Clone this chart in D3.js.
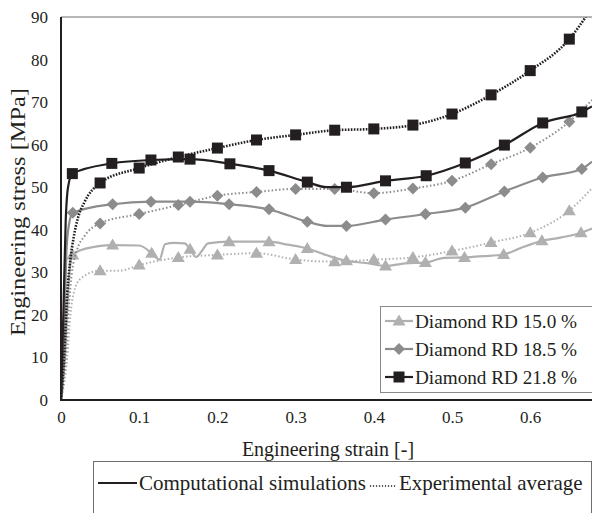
<!DOCTYPE html>
<html>
<head>
<meta charset="utf-8">
<script src="https://cdn.jsdelivr.net/npm/d3@7"></script>
<style>
  html, body { margin: 0; padding: 0; background: #fff; }
</style>
</head>
<body>
<svg id="chart" width="592" height="513" font-family="Liberation Serif"></svg>
<script>
// Engineering stress–strain curves for three diamond lattice relative densities.
// Each point: [strain, stress (MPa), marker flag]
const sim150 = [
  [0,0,0],[0.005,10,0],[0.009,25,0],[0.012,32,0],[0.015,34.1,1],[0.03,35.5,0],[0.066,36.4,1],
  [0.1,36.3,0],[0.116,34.5,1],[0.126,33.0,0],[0.133,36.6,0],[0.145,36.9,0],[0.158,36.8,0],
  [0.165,35.4,1],[0.173,33.6,0],[0.18,35.0,0],[0.188,36.8,0],[0.215,37.2,1],[0.266,37.2,1],
  [0.29,36.5,0],[0.315,35.6,1],[0.34,34.0,0],[0.365,32.7,1],[0.39,32.2,0],[0.415,31.5,1],
  [0.44,32.1,0],[0.466,32.3,1],[0.49,33.4,0],[0.516,33.5,1],[0.54,33.8,0],[0.566,34.2,1],
  [0.59,35.9,0],[0.615,37.4,1],[0.64,38.2,0],[0.665,39.3,1],[0.679,40.3,0]
];
const exp150 = [
  [0,0,0],[0.008,10,0],[0.012,20,0],[0.016,25,0],[0.025,28.5,0],[0.05,30.4,1],[0.075,30.4,0],
  [0.1,31.7,1],[0.15,33.5,1],[0.2,34.1,1],[0.25,34.5,1],[0.3,33.0,1],[0.35,32.5,1],[0.4,33.0,1],
  [0.45,33.5,1],[0.5,35.0,1],[0.55,37.0,1],[0.6,39.3,1],[0.65,44.5,1],[0.679,49.8,0]
];
const sim185 = [
  [0,0,0],[0.004,15,0],[0.007,35,0],[0.01,41,0],[0.015,44.0,1],[0.066,46.0,1],[0.115,46.6,1],
  [0.165,46.6,1],[0.215,46.0,1],[0.266,44.8,1],[0.315,41.9,1],[0.34,40.9,0],[0.365,40.9,1],
  [0.415,42.4,1],[0.466,43.7,1],[0.517,45.2,1],[0.567,49.0,1],[0.616,52.3,1],[0.666,54.3,1],
  [0.679,56.0,0]
];
const exp185 = [
  [0,0,0],[0.006,10,0],[0.01,22,0],[0.014,30,0],[0.02,35,0],[0.03,38.5,0],[0.05,41.5,1],
  [0.1,43.7,1],[0.15,45.8,1],[0.2,48.0,1],[0.25,48.9,1],[0.3,49.6,1],[0.35,49.6,1],[0.4,48.6,1],
  [0.45,49.7,1],[0.5,51.5,1],[0.55,55.4,1],[0.6,59.3,1],[0.65,65.4,1],[0.679,70.5,0]
];
const sim218 = [
  [0,0,0],[0.003,20,0],[0.006,42,0],[0.009,50,0],[0.0145,53.2,1],[0.065,55.6,1],[0.115,56.4,1],
  [0.165,56.6,1],[0.216,55.5,1],[0.266,53.9,1],[0.315,51.2,1],[0.34,50.0,0],[0.365,50.0,1],
  [0.415,51.5,1],[0.467,52.7,1],[0.517,55.7,1],[0.567,59.9,1],[0.616,65.1,1],[0.666,67.7,1],
  [0.679,69.0,0]
];
const exp218 = [
  [0,0,0],[0.004,10,0],[0.008,25,0],[0.012,33,0],[0.016,38,0],[0.022,43,0],[0.03,46.5,0],
  [0.05,51.0,1],[0.1,54.5,1],[0.15,57.1,1],[0.2,59.2,1],[0.25,61.1,1],[0.3,62.3,1],[0.35,63.4,1],
  [0.4,63.7,1],[0.45,64.6,1],[0.5,67.2,1],[0.55,71.7,1],[0.6,77.4,1],[0.65,84.8,1],[0.671,90,0]
];

const seriesNames = ["Diamond RD 15.0 %", "Diamond RD 18.5 %", "Diamond RD 21.8 %"];
const seriesColors = ["#b0b0b0", "#8c8c8c", "#231f20"];
const seriesShapes = ["triangle", "diamond", "square"];
const simData = [sim150, sim185, sim218];
const expData = [exp150, exp185, exp218];

const xTicks = [0, 0.1, 0.2, 0.3, 0.4, 0.5, 0.6];
const yTicks = [0, 10, 20, 30, 40, 50, 60, 70, 80, 90];
const styleNames = ["Computational simulations", "Experimental average"];

const FONT = "Liberation Serif";
const svg = d3.select("#chart");
const margin = { left: 61, top: 17, bottom: 400 };

const x = d3.scaleLinear().domain([0, 0.68]).range([margin.left, margin.left + 0.68 * 782]);
const y = d3.scaleLinear().domain([0, 90]).range([margin.bottom, margin.top]);

svg.append("defs").append("clipPath").attr("id", "plotClip")
  .append("rect")
  .attr("x", margin.left).attr("y", margin.top)
  .attr("width", 592 - margin.left).attr("height", margin.bottom - margin.top);

// top frame line
svg.append("line")
  .attr("x1", margin.left).attr("x2", 592)
  .attr("y1", margin.top).attr("y2", margin.top)
  .attr("stroke", "#6d6d6d").attr("stroke-width", 1);

// axes (labels only, no tick marks)
const xAxis = svg.append("g").attr("transform", `translate(0,${margin.bottom})`)
  .call(d3.axisBottom(x).tickValues(xTicks).tickSize(0).tickPadding(11)
    .tickFormat(d => d === 0 ? "0" : d3.format(".1f")(d)));
const yAxis = svg.append("g").attr("transform", `translate(${margin.left},0)`)
  .call(d3.axisLeft(y).tickValues(yTicks).tickSize(0).tickPadding(13));
[xAxis, yAxis].forEach(g => {
  g.attr("font-family", FONT).attr("font-size", 17);
  g.select(".domain").remove();
  g.selectAll("text").attr("font-family", FONT).attr("fill", "#231f20");
});

const line = d3.line().x(d => x(d[0])).y(d => y(d[1])).curve(d3.curveMonotoneX);

function marker(g, shape, color, cx, cy) {
  if (shape === "square") {
    g.append("rect").attr("x", cx - 5.5).attr("y", cy - 5.5).attr("width", 11).attr("height", 11).attr("fill", color);
  } else if (shape === "diamond") {
    g.append("path").attr("d", `M${cx},${cy - 6}L${cx + 6},${cy}L${cx},${cy + 6}L${cx - 6},${cy}Z`).attr("fill", color);
  } else {
    g.append("path").attr("d", `M${cx},${cy - 6.5}L${cx + 6.5},${cy + 4.5}L${cx - 6.5},${cy + 4.5}Z`).attr("fill", color);
  }
}

const plot = svg.append("g").attr("clip-path", "url(#plotClip)");

for (let i = 0; i < 3; i++) {
  const g = plot.append("g");
  const black = i === 2;
  g.append("path").datum(expData[i])
    .attr("d", line).attr("fill", "none")
    .attr("stroke", seriesColors[i]).attr("stroke-width", black ? 2.6 : 2)
    .attr("stroke-dasharray", black ? "1.6,1.4" : "1.5,2.2");
  g.append("path").datum(simData[i])
    .attr("d", line).attr("fill", "none")
    .attr("stroke", seriesColors[i]).attr("stroke-width", 2.2);
  expData[i].filter(d => d[2]).forEach(d => marker(g, seriesShapes[i], seriesColors[i], x(d[0]), y(d[1])));
  simData[i].filter(d => d[2]).forEach(d => marker(g, seriesShapes[i], seriesColors[i], x(d[0]), y(d[1])));
}

// axis lines drawn over the curves
svg.append("line").attr("x1", margin.left).attr("x2", margin.left)
  .attr("y1", margin.top).attr("y2", margin.bottom + 1)
  .attr("stroke", "#231f20").attr("stroke-width", 2);
svg.append("line").attr("x1", margin.left).attr("x2", 592)
  .attr("y1", margin.bottom).attr("y2", margin.bottom)
  .attr("stroke", "#231f20").attr("stroke-width", 2.2);

// axis titles
svg.append("text")
  .attr("x", 328).attr("y", 456)
  .attr("text-anchor", "middle").attr("font-family", FONT).attr("font-size", 20).attr("fill", "#231f20")
  .text("Engineering strain [-]");
svg.append("text")
  .attr("transform", "translate(25,212) rotate(-90) scale(1.22,1)")
  .attr("text-anchor", "middle").attr("font-family", FONT).attr("font-size", 20).attr("fill", "#231f20")
  .text("Engineering stress [MPa]");

// series legend
const lg = svg.append("g");
lg.append("rect").attr("x", 380.5).attr("y", 306.5).attr("width", 212).attr("height", 86)
  .attr("fill", "#fff").attr("stroke", "#8a8a8a").attr("stroke-width", 1);
seriesNames.forEach((name, i) => {
  const cy = 321 + i * 28;
  lg.append("line").attr("x1", 385).attr("x2", 413).attr("y1", cy).attr("y2", cy)
    .attr("stroke", seriesColors[i]).attr("stroke-width", 2.2);
  marker(lg, seriesShapes[i], seriesColors[i], 399, cy);
  lg.append("text").attr("x", 415).attr("y", cy + 6.5)
    .attr("font-family", FONT).attr("font-size", 19.2).attr("fill", "#231f20").text(name);
});

// line-style legend
const sg = svg.append("g");
sg.append("rect").attr("x", 93.5).attr("y", 461.5).attr("width", 498).attr("height", 70)
  .attr("fill", "#fff").attr("stroke", "#6d6d6d").attr("stroke-width", 1);
sg.append("line").attr("x1", 98).attr("x2", 137).attr("y1", 483).attr("y2", 483)
  .attr("stroke", "#231f20").attr("stroke-width", 2.2);
const t1 = sg.append("text").attr("x", 139).attr("y", 490)
  .attr("font-family", FONT).attr("font-size", 21).attr("fill", "#231f20").text(styleNames[0]);
const w1 = t1.node().getComputedTextLength();
sg.append("line").attr("x1", 139 + w1 + 4).attr("x2", 139 + w1 + 30).attr("y1", 486).attr("y2", 486)
  .attr("stroke", "#231f20").attr("stroke-width", 1.3).attr("stroke-dasharray", "1.2,1.8");
sg.append("text").attr("x", 139 + w1 + 33).attr("y", 490)
  .attr("font-family", FONT).attr("font-size", 21).attr("fill", "#231f20").text(styleNames[1]);
</script>
</body>
</html>
